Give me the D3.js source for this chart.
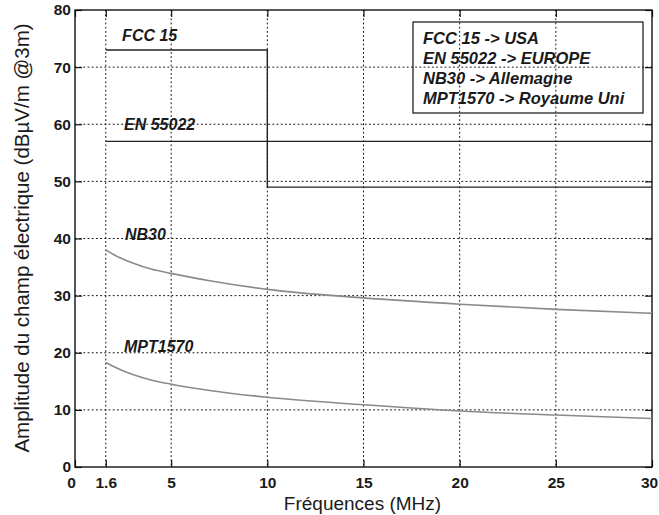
<!DOCTYPE html>
<html>
<head>
<meta charset="utf-8">
<script src="https://cdnjs.cloudflare.com/ajax/libs/d3/7.8.5/d3.min.js"></script>
<style>
  body { margin: 0; background: #fff; }
  text { font-family: "Liberation Sans", Arial, Helvetica, sans-serif; fill: #1a1a1a; }
  .grid line { stroke: #111; stroke-width: 1; stroke-dasharray: 1.8,2.4; }
</style>
</head>
<body>
<script>
// frequencies in MHz, levels in dBuV/m @3m
var xTicks = [0, 1.6, 5, 10, 15, 20, 25, 30];
var yTicks = [0, 10, 20, 30, 40, 50, 60, 70, 80];

var fccFreq = [1.6, 10, 10, 30];
var fccLevel = [73, 73, 49, 49];

var enFreq = [1.6, 30];
var enLevel = [57, 57];

var curveFreq = [1.6, 2, 3, 4, 5, 7, 10, 15, 20, 25, 30];
var nb30Level = [38.0, 37.2, 35.7, 34.6, 33.9, 32.6, 31.1, 29.6, 28.5, 27.6, 26.9];
var mptLevel = [18.3, 17.6, 16.2, 15.2, 14.5, 13.4, 12.2, 10.9, 9.8, 9.1, 8.5];

var curveLabels = [
  {name: "FCC 15", f: 2.45, v: 74.5},
  {name: "EN 55022", f: 2.55, v: 59},
  {name: "NB30", f: 2.6, v: 39.7},
  {name: "MPT1570", f: 2.55, v: 20.2}
];
var legendLines = ["FCC 15 -> USA", "EN 55022 -> EUROPE", "NB30 -> Allemagne", "MPT1570 -> Royaume Uni"];

var W = 659, H = 515;
var margin = {top: 10, right: 7, bottom: 48, left: 75},
    width = W - margin.left - margin.right,
    height = H - margin.top - margin.bottom;

var svg = d3.select("body").append("svg")
    .attr("width", W).attr("height", H);
var g = svg.append("g")
    .attr("transform", "translate(" + margin.left + "," + margin.top + ")");

var x = d3.scaleLinear().domain([0, 30]).range([0, width]);
var y = d3.scaleLinear().domain([0, 80]).range([height, 0]);

// grid
g.append("g").attr("class", "grid")
  .selectAll("line").data(xTicks.filter(function(d){ return d > 0 && d < 30; }))
  .enter().append("line")
  .attr("x1", x).attr("x2", x).attr("y1", 0).attr("y2", height);
g.append("g").attr("class", "grid")
  .selectAll("line").data(yTicks.filter(function(d){ return d > 0 && d < 80; }))
  .enter().append("line")
  .attr("y1", y).attr("y2", y).attr("x1", 0).attr("x2", width);

// axes (ticks inward, box on)
var tickFont = function(sel){
  sel.selectAll("text").style("font-size", "15.5px").style("font-weight", "bold");
  sel.selectAll("line").attr("stroke", "#111").attr("stroke-width", 1.2);
  sel.select(".domain").remove();
};
var xAxisG = g.append("g").attr("transform", "translate(0," + height + ")")
  .call(d3.axisBottom(x).tickValues(xTicks).tickFormat(function(d){ return d; })
        .tickSizeInner(-7).tickSizeOuter(0).tickPadding(10))
  .call(tickFont);
// end labels sit slightly inward, as in the original
xAxisG.selectAll(".tick text").attr("dx", function(d){ return d === 0 ? -4 : (d === 30 ? -3 : 0); });
g.append("g")
  .call(d3.axisLeft(y).tickValues(yTicks).tickSizeInner(-7).tickSizeOuter(0).tickPadding(4))
  .call(tickFont);
g.append("g")
  .call(d3.axisTop(x).tickValues(xTicks).tickFormat("").tickSizeInner(-7).tickSizeOuter(0))
  .call(tickFont);
g.append("g").attr("transform", "translate(" + width + ",0)")
  .call(d3.axisRight(y).tickValues(yTicks).tickFormat("").tickSizeInner(-7).tickSizeOuter(0))
  .call(tickFont);

g.append("rect").attr("width", width).attr("height", height)
  .attr("fill", "none").attr("stroke", "#111").attr("stroke-width", 1.4);

// limit lines
var line = d3.line().x(function(d){ return x(d[0]); }).y(function(d){ return y(d[1]); });
var smooth = d3.line().x(function(d){ return x(d[0]); }).y(function(d){ return y(d[1]); })
  .curve(d3.curveMonotoneX);

g.append("path").attr("d", line(d3.zip(fccFreq, fccLevel)))
  .attr("fill", "none").attr("stroke", "#222").attr("stroke-width", 1.4);
g.append("path").attr("d", line(d3.zip(enFreq, enLevel)))
  .attr("fill", "none").attr("stroke", "#222").attr("stroke-width", 1.4);
g.append("path").attr("d", smooth(d3.zip(curveFreq, nb30Level)))
  .attr("fill", "none").attr("stroke", "#8a8a8a").attr("stroke-width", 1.6);
g.append("path").attr("d", smooth(d3.zip(curveFreq, mptLevel)))
  .attr("fill", "none").attr("stroke", "#8a8a8a").attr("stroke-width", 1.6);

g.selectAll(".clabel").data(curveLabels).enter().append("text")
  .attr("class", "clabel")
  .attr("x", function(d){ return x(d.f); })
  .attr("y", function(d){ return y(d.v); })
  .style("font-size", "16px").style("font-weight", "bold").style("font-style", "italic")
  .text(function(d){ return d.name; });

// legend box
var lg = svg.append("g").attr("transform", "translate(413,22)");
lg.append("rect").attr("width", 230).attr("height", 91)
  .attr("fill", "none").attr("stroke", "#111").attr("stroke-width", 1.2);
lg.selectAll("text").data(legendLines).enter().append("text")
  .attr("x", 10).attr("y", function(d, i){ return 21.5 + i * 20.3; })
  .style("font-size", "16.5px").style("font-weight", "bold").style("font-style", "italic")
  .text(function(d){ return d; });

// axis titles
svg.append("text")
  .attr("x", margin.left + width / 2 - 1).attr("y", 510)
  .attr("text-anchor", "middle").style("font-size", "19px")
  .text("Fréquences (MHz)");
svg.append("text")
  .attr("transform", "translate(29,238) rotate(-90)")
  .attr("text-anchor", "middle").style("font-size", "20.5px")
  .text("Amplitude du champ électrique (dBµV/m @3m)");
</script>
</body>
</html>
